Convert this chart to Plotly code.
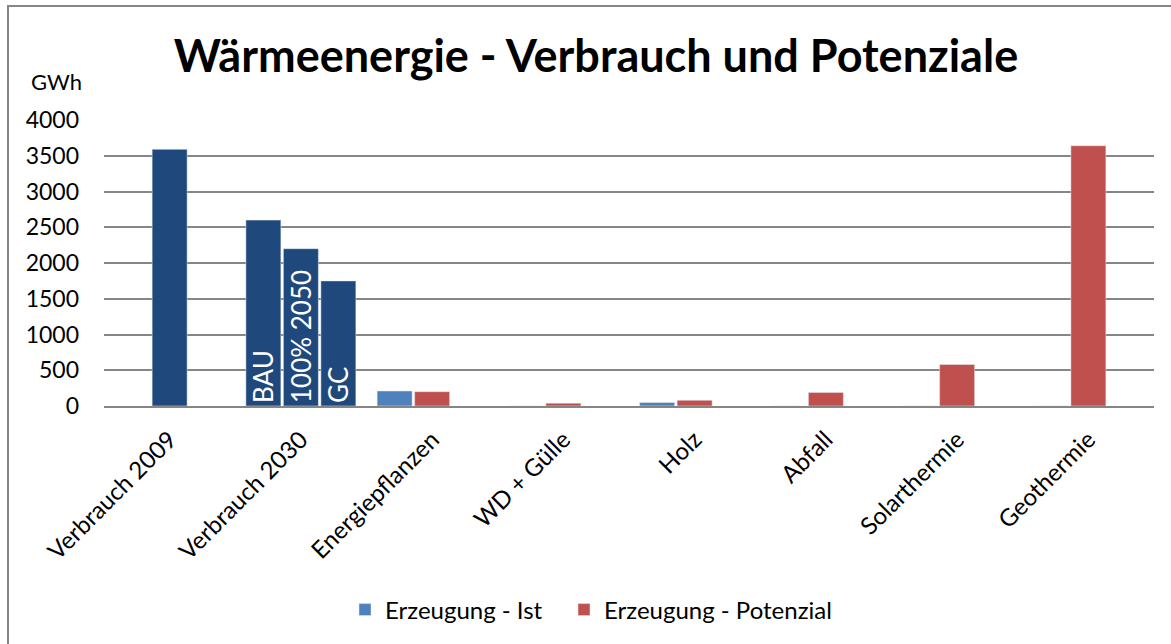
import plotly.graph_objects as go

categories = ["Verbrauch 2009", "Verbrauch 2030", "Energiepflanzen", "WD + Gülle",
              "Holz", "Abfall", "Solarthermie", "Geothermie"]

# Verbrauch
verbrauch_2009 = [3590]
szenarien_2030 = ["BAU", "100% 2050", "GC"]
verbrauch_2030 = [2600, 2200, 1750]

# Erzeugung (Energiepflanzen ... Geothermie)
erz_categories = categories[2:]
erzeugung_ist = [210, 0, 50, 0, 0, 0]
erzeugung_potenzial = [200, 40, 80, 190, 580, 3640]

DARK = "#1F497D"
LIGHT = "#4F81BD"
RED = "#C0504D"
GRID = "#868686"
FONT = "Lato"

W = 35 / 131.25          # bar width in category units
STEP = 37.5 / 131.25     # slot spacing
OFF_L = -W / 2 - STEP
OFF_C = -W / 2
OFF_R = -W / 2 + STEP

fig = go.Figure()

fig.add_trace(go.Bar(x=[categories[0]], y=verbrauch_2009, marker_color=DARK,
                     width=W, offset=OFF_C, showlegend=False, name="Verbrauch 2009"))

for i, (lab, val) in enumerate(zip(szenarien_2030, verbrauch_2030)):
    off = [OFF_L, OFF_C, OFF_R][i]
    fig.add_trace(go.Bar(x=[categories[1]], y=[val], marker_color=DARK,
                         width=W, offset=off, showlegend=False, name=lab,
                         text=[lab], textposition="inside", textangle=-90,
                         insidetextanchor="start", constraintext="none",
                         textfont=dict(color="white", size=26, family=FONT)))

fig.add_trace(go.Bar(x=erz_categories, y=erzeugung_ist, marker_color=LIGHT,
                     width=W, offset=OFF_L, name="Erzeugung - Ist", legend="legend"))
fig.add_trace(go.Bar(x=erz_categories, y=erzeugung_potenzial, marker_color=RED,
                     width=W, offset=OFF_C, name="Erzeugung - Potenzial", legend="legend2"))

legend_common = dict(orientation="h", xanchor="left", yanchor="middle",
                     y=(406 - 610) / 286, font=dict(family=FONT, size=24),
                     itemwidth=30, bgcolor="rgba(0,0,0,0)")

fig.update_layout(
    width=1171, height=644,
    margin=dict(l=104, r=17, t=120, b=238),
    paper_bgcolor="white", plot_bgcolor="white",
    barmode="overlay",
    font=dict(family=FONT, size=23, color="black"),
    title=dict(text="<b>Wärmeenergie - Verbrauch und Potenziale</b>",
               x=(596 - 0) / 1171, xanchor="center", y=1 - 56 / 644, yanchor="middle",
               font=dict(family=FONT, size=45, color="black")),
    legend=dict(x=(345 - 104) / 1050, **legend_common),
    legend2=dict(x=(564 - 104) / 1050, **legend_common),
    showlegend=True,
)

fig.update_xaxes(type="category", categoryorder="array", categoryarray=categories,
                 tickangle=-45, showgrid=False, showline=True, linecolor=GRID,
                 linewidth=2, ticks="", tickfont=dict(size=24, family=FONT),
                 ticklabelshift=0, ticklabelstandoff=8)
fig.update_yaxes(range=[0, 4000], dtick=500, showgrid=True, gridcolor=GRID,
                 gridwidth=2, zeroline=False, showline=False, ticks="",
                 tickfont=dict(size=23, family=FONT), ticklabelstandoff=24)

fig.add_annotation(text="GWh", xref="paper", yref="paper", x=(56 - 104) / 1050,
                   y=(406 - 82) / 286, showarrow=False, xanchor="center", yanchor="middle",
                   font=dict(family=FONT, size=22))

fig.add_shape(type="rect", xref="paper", yref="paper",
              x0=(8 - 104) / 1050, x1=1.2, y0=-1.2, y1=(406 - 6) / 286,
              line=dict(color=GRID, width=2), fillcolor="rgba(0,0,0,0)", layer="below")

fig.write_html("out.html", config={"displayModeBar": False},
               post_script="document.body.style.margin='0px';")
